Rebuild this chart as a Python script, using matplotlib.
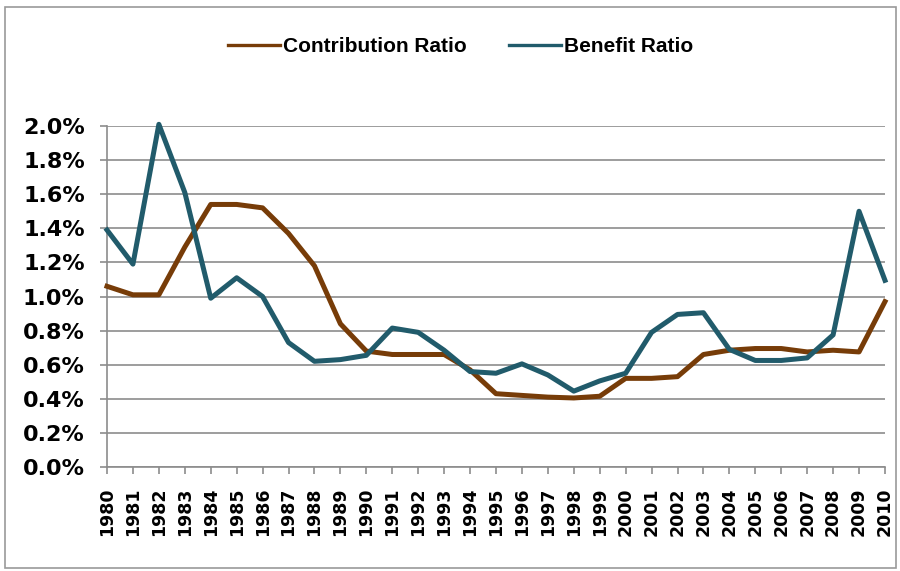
import matplotlib
matplotlib.use('Agg')
import matplotlib.pyplot as plt
from matplotlib.patches import Rectangle
from matplotlib.ticker import FuncFormatter

years = list(range(1980, 2011))

contribution_ratio = [1.06, 1.01, 1.01, 1.29, 1.54, 1.54, 1.52, 1.37, 1.18, 0.84,
                      0.68, 0.66, 0.66, 0.66, 0.57, 0.43, 0.42, 0.41, 0.405, 0.415,
                      0.52, 0.52, 0.53, 0.66, 0.685, 0.695, 0.695, 0.675, 0.685, 0.675,
                      0.97]

benefit_ratio = [1.39, 1.19, 2.01, 1.61, 0.99, 1.11, 1.00, 0.73, 0.62, 0.63,
                 0.655, 0.815, 0.79, 0.685, 0.56, 0.55, 0.605, 0.54, 0.445, 0.505,
                 0.55, 0.79, 0.895, 0.905, 0.69, 0.625, 0.625, 0.64, 0.775, 1.50,
                 1.095]

brown = '#773c08'
teal = '#215b6b'
grid_grey = '#8c8c8c'

fig = plt.figure(figsize=(9, 5.71), dpi=100)
fig.patches.append(Rectangle((0.006, 0.006), 0.99, 0.982, transform=fig.transFigure,
                             fill=False, edgecolor='#9a9a9a', linewidth=1.2))

ax = fig.add_axes([0.1189, 0.1821, 0.8644, 0.5972])

x = list(range(len(years)))
ax.plot(x, contribution_ratio, color=brown, linewidth=3.6, label='Contribution Ratio',
        clip_on=False, zorder=3)
ax.plot(x, benefit_ratio, color=teal, linewidth=3.6, label='Benefit Ratio',
        clip_on=False, zorder=3)

ax.set_xlim(0, len(years) - 1)
ax.set_ylim(0, 2.0)
ax.set_yticks([i * 0.2 for i in range(11)])
ax.yaxis.set_major_formatter(FuncFormatter(lambda v, p: f'{v:.1f}%'))
ax.set_xticks(x)
ax.set_xticklabels([str(y) for y in years], rotation=90)

ax.grid(axis='y', color=grid_grey, linewidth=1.2, zorder=1)
ax.set_axisbelow(True)
for side in ['top', 'right']:
    ax.spines[side].set_visible(False)
for side in ['left', 'bottom']:
    ax.spines[side].set_color(grid_grey)
    ax.spines[side].set_linewidth(1.2)
ax.tick_params(axis='both', color=grid_grey, length=5, width=1.2, direction='out')
ax.tick_params(axis='y', pad=11)
ax.tick_params(axis='x', pad=10)

for lbl in ax.get_yticklabels():
    lbl.set_fontsize(16)
    lbl.set_fontweight('bold')
for lbl in ax.get_xticklabels():
    lbl.set_fontsize(12.5)
    lbl.set_fontweight('bold')

leg = fig.legend(loc='center', bbox_to_anchor=(0.512, 0.918), ncol=2, frameon=False,
                 handlelength=2.5, handletextpad=0.15, columnspacing=2.0,
                 prop={'family': 'Liberation Sans', 'weight': 'bold', 'size': 15})
for h in leg.get_lines():
    h.set_linewidth(2.4)

fig.savefig('out.png', dpi=100)
